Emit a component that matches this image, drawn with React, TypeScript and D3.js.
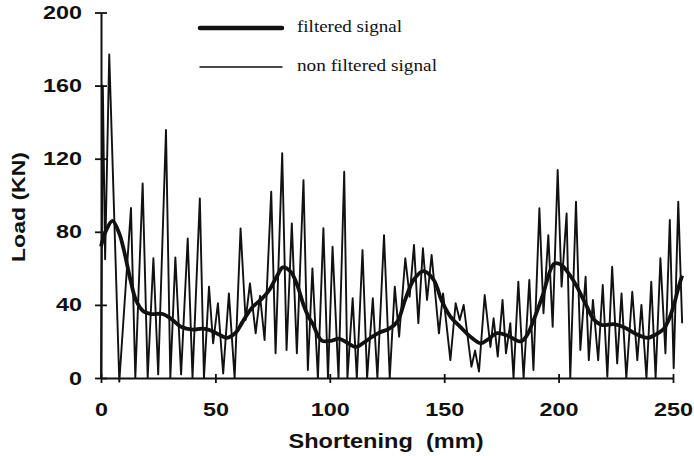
import { useEffect, useRef } from 'react';
import * as d3 from 'd3';

// raw load signal, peaks and troughs (shortening mm, load kN)
const rawX = [
  0, 0.8, 1.8, 3.6, 8, 13.1, 15, 18.2, 20.4, 22.9, 25, 28.4, 30.3, 32.5, 35, 37.9, 40, 43.2, 45, 47.2,
  49, 51.1, 53.4, 55.9, 58.4, 61, 63.2, 65.1, 67.6, 69.5, 71.5, 74.4, 76.3, 79.2, 81.1, 83.4, 85.6, 88.5,
  90.4, 92.4, 94.8, 97.2, 99.2, 101.2, 103.8, 106.3, 107.7, 110, 111.8, 114.3, 116.3, 118.8, 120.8, 123.7,
  126.2, 128.4, 130.3, 133, 134.9, 136.8, 138.7, 140.7, 142.5, 144.5, 147.7, 149.5, 152.7, 155, 156.8,
  158.5, 161.9, 163.5, 165.2, 167.7, 170.2, 171.6, 173.4, 175.5, 177, 178.9, 180.3, 182.4, 184.7, 187.2,
  189, 191.6, 193.4, 195.5, 197.4, 199.6, 201.3, 203.5, 205.1, 207.6, 209.5, 211.8, 213.2, 215, 217.3,
  219.3, 221.3, 223.4, 225.6, 227.5, 229.6, 232.2, 234.4, 236.2, 238.4, 240.5, 242.4, 244.5, 246.7,
  248.6, 250.3, 252.3, 254,
];
const rawLoad = [
  0, 160, 65, 177, -2, 93, 0, 106.5, 0, 65.5, 2, 135.7, 0, 66, 2, 76.4, 0, 98.3, 0, 50,
  19, 40.9, 2.5, 46.3, 0, 81.9, 31.7, 51.8, 24.4, 45, 20.8, 102, 13.5, 123, 15.3, 84.6, 13.5, 108.3,
  4.4, 60, 0, 82, 0, 71.8, 0, 112.9, 0, 43.6, 0, 70, 0, 43.6, 0, 78.2,
  0, 50, 22.6, 65.5, 44.5, 72.8, 30, 71, 42.7, 67.3, 24.4, 46.3, 9.8, 40.9, 31.7,
  40, 6.2, 15, 3.5, 45.4, 17, 32.7, 11.7, 42.7, 13.5, 30, 0, 52.7, 0, 53.6,
  4.4, 92.9, 35.4, 78.2, 28, 113.8, 50, 90, 0, 96.5, 15.3, 55.4, 9.8, 42.7, 9.8,
  50.9, 0.7, 60.9, 8, 46.3, 0, 47.2, 9.8, 40, 0, 52.7, 0, 65.5, 13.5,
  86.5, 5.3, 96.5, 30,
];

// filtered signal
const filtX = [
  0, 2, 5, 8, 10, 13, 15.3, 18.5, 22, 27, 31, 35, 40, 44.4, 48, 52, 55, 59, 62, 66, 70, 73.5, 77,
  79.5, 83, 86, 88.5, 90.7, 92.4, 96.5, 101, 104, 108, 111.4, 115, 118.6, 122, 126, 129.6, 133, 136.8,
  141, 145.5, 149, 152.8, 157, 162, 166, 169, 173.2, 178, 183.4, 186, 189.2, 193, 198, 201, 205.4, 208,
  212, 215.4, 219, 224.2, 229, 234, 239, 242, 246, 248.2, 250.4, 252.5, 254,
];
const filtLoad = [
  72, 80, 86, 79, 70, 53, 42.5, 36.5, 35, 35, 32, 28, 26.5, 27, 26, 23.5, 22, 25, 31, 38.5, 43, 48, 56,
  60.5, 58, 50, 40, 33.5, 30, 20.5, 20.5, 21.5, 19, 17, 19.5, 22.6, 25, 27, 31, 43, 54,
  58.5, 53.5, 42, 33.5, 28, 22, 19, 21, 24.5, 23, 20, 23, 32, 45, 62.5, 62, 55.4, 50,
  40, 32, 29, 29.5, 27.5, 24, 22, 23.5, 27, 32, 40, 50, 56,
];

const xTicks = [0, 50, 100, 150, 200, 250];
const yTicks = [0, 40, 80, 120, 160, 200];

const legendItems = ['filtered signal', 'non filtered signal'];

function App() {
  const ref = useRef<SVGSVGElement>(null);

  useEffect(() => {
    const svg = d3.select(ref.current);
    svg.selectAll('*').remove();

    const x = d3.scaleLinear().domain([0, 250]).range([101, 673]);
    const y = d3.scaleLinear().domain([0, 200]).range([378, 12.5]);

    const raw = rawX.map((v, i) => [v, rawLoad[i]] as [number, number]);
    const filt = filtX.map((v, i) => [v, filtLoad[i]] as [number, number]);

    const line = d3.line<[number, number]>().x(d => x(d[0])).y(d => y(d[1]));

    svg.append('path')
      .attr('d', line(raw))
      .attr('fill', 'none')
      .attr('stroke', '#111')
      .attr('stroke-width', 1.9)
      .attr('stroke-linejoin', 'round');

    svg.append('path')
      .attr('d', line.curve(d3.curveCatmullRom)(filt))
      .attr('fill', 'none')
      .attr('stroke', '#111')
      .attr('stroke-width', 3.8)
      .attr('stroke-linejoin', 'round');

    // axes
    const gx = svg.append('g')
      .attr('transform', 'translate(0,378)')
      .call(d3.axisBottom(x).tickValues(xTicks).tickSize(5).tickPadding(20).tickSizeOuter(0));
    gx.selectAll('.tick line').attr('y1', -4);

    const gy = svg.append('g')
      .attr('transform', 'translate(101,0)')
      .call(d3.axisLeft(y).tickValues(yTicks).tickSize(6).tickPadding(13).tickSizeOuter(0));
    gy.selectAll('.tick line').attr('x1', 6);

    svg.selectAll('.domain').attr('stroke', '#111').attr('stroke-width', 2);
    svg.selectAll('.tick line').attr('stroke', '#111').attr('stroke-width', 1.8);
    svg.selectAll('.tick text')
      .attr('fill', '#111')
      .style('font-family', '"Liberation Sans", Arial, sans-serif')
      .style('font-weight', 'bold')
      .style('font-size', '19px')
      .attr('textLength', (d: any) => String(d).length * 13)
      .attr('lengthAdjust', 'spacingAndGlyphs');

    // axis titles
    svg.append('text')
      .attr('x', 386)
      .attr('y', 448)
      .attr('text-anchor', 'middle')
      .style('font-family', '"Liberation Sans", Arial, sans-serif')
      .style('font-weight', 'bold')
      .style('font-size', '20px')
      .style('white-space', 'pre')
      .attr('textLength', 195)
      .attr('lengthAdjust', 'spacingAndGlyphs')
      .attr('fill', '#111')
      .text('Shortening  (mm)');

    svg.append('text')
      .attr('transform', 'translate(25,207) rotate(-90)')
      .attr('text-anchor', 'middle')
      .style('font-family', '"Liberation Sans", Arial, sans-serif')
      .style('font-weight', 'bold')
      .style('font-size', '19px')
      .attr('textLength', 110)
      .attr('lengthAdjust', 'spacingAndGlyphs')
      .attr('fill', '#111')
      .text('Load (KN)');

    // legend
    const legendY = [28, 67];
    const legendW = [4.5, 1.5];
    const legendTextW = [105, 140];
    legendItems.forEach((name, i) => {
      svg.append('line')
        .attr('x1', 200).attr('x2', 282)
        .attr('y1', legendY[i]).attr('y2', legendY[i])
        .attr('stroke', '#111')
        .attr('stroke-width', legendW[i])
        .attr('stroke-linecap', 'round');
      svg.append('text')
        .attr('x', 297)
        .attr('y', legendY[i] + 4)
        .style('font-family', '"Liberation Serif", "Times New Roman", serif')
        .style('font-size', '16px')
        .attr('textLength', legendTextW[i])
        .attr('lengthAdjust', 'spacingAndGlyphs')
        .attr('fill', '#111')
        .text(name);
    });
  }, []);

  return (
    <svg
      ref={ref}
      width={694}
      height={456}
      style={{ position: 'absolute', left: 0, top: 0, background: '#fff' }}
    />
  );
}

export default App;
